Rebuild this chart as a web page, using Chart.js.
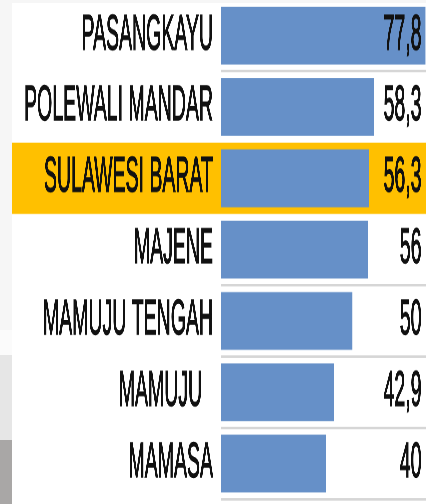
<!DOCTYPE html>
<html>
<head>
<meta charset="utf-8">
<script src="https://cdn.jsdelivr.net/npm/chart.js@4/dist/chart.umd.min.js"></script>
<style>
    body { margin: 0; overflow: hidden; background: #f6f6f6; }
    #page { position: relative; width: 426px; height: 504px; overflow: hidden; }
    #panel { position: absolute; left: 12px; top: 3px; right: 0; bottom: 0; background: #fff; }
    .strip { position: absolute; left: 0; width: 12px; }
    /* the chart is drawn flat and stretched tall, like the squeezed picture */
    #wrap { position: absolute; left: 0; top: 0; width: 426px; height: 200px; transform: scaleY(2.52); transform-origin: 0 0; }
</style>
</head>
<body>
<div id="page">
    <div id="panel"></div>
    <div class="strip" style="top:330px;height:25px;background:#fbfbfb"></div>
    <div class="strip" style="top:355px;height:85px;background:#e6e6e6"></div>
    <div class="strip" style="top:440px;height:64px;background:#a9a7a6"></div>
    <div id="wrap"><canvas id="chart" width="426" height="200"></canvas></div>
</div>
<script>
// data
const regions = ["PASANGKAYU", "POLEWALI MANDAR", "SULAWESI BARAT", "MAJENE", "MAMUJU TENGAH", "MAMUJU  ", "MAMASA"];
const values = [77.8, 58.3, 56.3, 56, 50, 42.9, 40];
const highlighted = "SULAWESI BARAT";

const hiIndex = regions.indexOf(highlighted);
const labelFont = { family: "'Liberation Sans', Arial, sans-serif", size: 19.5 };
const textColor = "#111";

// yellow band behind the highlighted row
const highlightPlugin = {
    id: "highlight",
    beforeDraw(chart) {
        const yScale = chart.scales.y;
        const half = yScale.height / regions.length / 2;
        const y = yScale.getPixelForValue(hiIndex);
        const ctx = chart.ctx;
        ctx.save();
        ctx.fillStyle = "#ffc000";
        ctx.fillRect(12, y - half, chart.width - 12, half * 2);
        ctx.restore();
    }
};

// values written at the right edge, with a decimal comma
const valuePlugin = {
    id: "values",
    afterDatasetsDraw(chart) {
        const ctx = chart.ctx;
        const meta = chart.getDatasetMeta(0);
        ctx.save();
        ctx.fillStyle = textColor;
        ctx.strokeStyle = textColor;
        ctx.lineWidth = 0.5;
        ctx.font = labelFont.size + "px " + labelFont.family;
        ctx.textAlign = "right";
        ctx.textBaseline = "middle";
        meta.data.forEach((bar, i) => {
            const txt = String(values[i]).replace(".", ",");
            const x = chart.chartArea.right - 4.5;
            ctx.strokeText(txt, x, bar.y);
            ctx.fillText(txt, x, bar.y);
        });
        ctx.restore();
    }
};

const ctx = document.getElementById("chart").getContext("2d");
new Chart(ctx, {
    type: "bar",
    data: {
        labels: regions,
        datasets: [{
            data: values,
            backgroundColor: "#6690c8",
            borderWidth: 0,
            categoryPercentage: 1,
            barPercentage: 0.81
        }]
    },
    options: {
        indexAxis: "y",
        responsive: false,
        animation: false,
        devicePixelRatio: 3,
        layout: { padding: { top: 0, bottom: 1.9, left: 0, right: 0 } },
        plugins: { legend: { display: false }, tooltip: { enabled: false } },
        scales: {
            x: { display: false, min: 0, max: 78 },
            y: {
                afterFit(scale) {
                    scale.width = 221;
                    scale.paddingTop = 0;
                    scale.paddingBottom = 0;
                },
                border: { display: false },
                grid: {
                    offset: true,
                    drawTicks: false,
                    lineWidth: 1,
                    color: (c) => (c.index === 0 || c.index === hiIndex || c.index === hiIndex + 1) ? "rgba(0,0,0,0)" : "#d6d6d6"
                },
                ticks: {
                    color: textColor,
                    font: labelFont,
                    padding: 8,
                    textStrokeColor: textColor,
                    textStrokeWidth: 0.5
                }
            }
        }
    },
    plugins: [highlightPlugin, valuePlugin]
});
</script>
</body>
</html>
